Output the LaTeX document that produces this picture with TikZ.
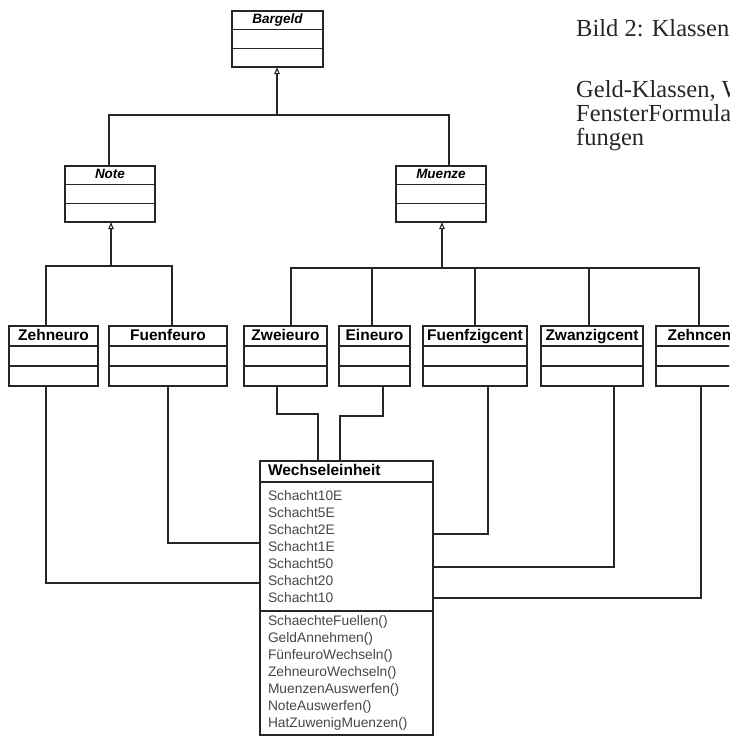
\documentclass[tikz,border=0pt]{standalone}
\usepackage{fontspec}
\setmainfont{Liberation Serif}
\setsansfont{Liberation Sans}
\usetikzlibrary{arrows.meta,positioning}
\definecolor{linie}{rgb}{0.15,0.15,0.15}
\definecolor{schrift}{rgb}{0.28,0.28,0.28}
\tikzset{%
  kopf/.style={draw=linie, line width=1.3pt, inner sep=0pt, outer sep=0pt,
    text height=11pt, text depth=3pt,
    font=\sffamily\bfseries\fontsize{15.5}{17}\selectfont},
  fach/.style={draw=linie, line width=1.3pt, inner sep=0pt, outer sep=0pt},
  abstrakt/.style={text height=10pt, text depth=3pt,
    font=\sffamily\bfseries\itshape\fontsize{13.5}{17}\selectfont},
  liste/.style={fach, align=left, text=schrift,
    font=\sffamily\fontsize{13.8}{17}\selectfont},
  verb/.style={draw=linie, line width=1.1pt},
  erbt/.style={verb, -{Triangle[open, length=7pt, width=5.5pt, fill=white]}},
  bildtext/.style={anchor=base west, inner sep=0pt, text=black!85,
    font=\fontsize{24.5}{24}\selectfont},
}
% [opt] name, ecke, breite, hoehe, titel
\newcommand{\klasse}[6][]{%
  \node[kopf, #1, minimum width=#4pt, minimum height=#5pt, anchor=north west] (#2) at (#3) {#6};
  \node[fach, minimum width=#4pt, minimum height=#5pt, anchor=north] (#2-a) at (#2.south) {};
  \node[fach, minimum width=#4pt, minimum height=#5pt, anchor=north] (#2-b) at (#2-a.south) {};
}

\begin{document}
\begin{tikzpicture}[x=1pt, y=-1pt]
  \useasboundingbox (0,0) rectangle (729,737);
  \clip (0,0) rectangle (729,737);

  % abstrakte Klassen
  \klasse[abstrakt]{Bargeld}{232,11}{91}{18.7}{Bargeld}
  \klasse[abstrakt]{Note}{65,166}{90}{18.7}{Note}
  \klasse[abstrakt]{Muenze}{396,166}{90}{18.7}{Muenze}

  % konkrete Klassen
  \foreach \name/\x/\w in {Zehneuro/9/89, Fuenfeuro/109/118, Zweieuro/244/83,
      Eineuro/339/71, Fuenfzigcent/423/104, Zwanzigcent/541/102, Zehncent/656/92}
  {
    \klasse{\name}{\x,326}{\w}{20}{\name}
  }

  % Wechseleinheit
  \node[kopf, minimum width=173pt, minimum height=21pt, text width=157pt,
    align=left, anchor=north west] (Wechsel) at (260,461) {Wechseleinheit};
  \node[liste, minimum width=173pt, minimum height=129pt, text width=157pt,
    anchor=north] (Wechsel-a) at (Wechsel.south)
    {Schacht10E\\Schacht5E\\Schacht2E\\Schacht1E\\Schacht50\\Schacht20\\Schacht10};
  \node[liste, minimum width=173pt, minimum height=124pt, text width=157pt,
    anchor=north] (Wechsel-b) at (Wechsel-a.south)
    {SchaechteFuellen()\\GeldAnnehmen()\\FünfeuroWechseln()\\ZehneuroWechseln()\\
     MuenzenAuswerfen()\\NoteAuswerfen()\\HatZuwenigMuenzen()};

  % Vererbung
  \coordinate (bus0) at (277,115);
  \coordinate (bus1) at (111,266);
  \coordinate (bus2) at (442,268);
  \draw[erbt] (bus0) -- (Bargeld-b.south -| bus0);
  \draw[verb] (Note.north -| 109,0) |- (bus0) -| (Muenze.north -| 449,0);
  \draw[erbt] (bus1) -- (Note-b.south -| bus1);
  \draw[verb] (Zehneuro.north -| 46,0) |- (bus1) -| (Fuenfeuro.north -| 172,0);
  \draw[erbt] (bus2) -- (Muenze-b.south -| bus2);
  \draw[verb] (Zweieuro.north -| 291,0) |- (bus2) -| (Zehncent.north -| 699,0);
  \foreach \k/\x in {Eineuro/372, Fuenfzigcent/475, Zwanzigcent/589}
    \draw[verb] (\k.north -| \x,0) -- (\x,268);

  % Assoziationen zur Wechseleinheit
  \draw[verb] (Zehneuro-b.south -| 46,0) |- (Wechsel-a.west |- 0,583);
  \draw[verb] (Fuenfeuro-b.south -| 168,0) |- (Wechsel-a.west |- 0,543);
  \draw[verb] (Zweieuro-b.south -| 277,0) |- (318,414) -- (Wechsel.north -| 318,0);
  \draw[verb] (Eineuro-b.south -| 383,0) |- (340,416) -- (Wechsel.north -| 340,0);
  \draw[verb] (Fuenfzigcent-b.south -| 488,0) |- (Wechsel-a.east |- 0,534);
  \draw[verb] (Zwanzigcent-b.south -| 614,0) |- (Wechsel-a.east |- 0,567);
  \draw[verb] (Zehncent-b.south -| 701,0) |- (Wechsel-a.east |- 0,598);

  % Bildunterschrift
  \node[bildtext] (titel) at (576,36) {Bild 2: Klassen};
  \node[bildtext] (zeile1) at (576,97) {Geld-Klassen, W};
  \node[bildtext] (zeile2) at (576,121) {FensterFormula};
  \node[bildtext] (zeile3) at (576,145) {fungen};
\end{tikzpicture}
\end{document}
